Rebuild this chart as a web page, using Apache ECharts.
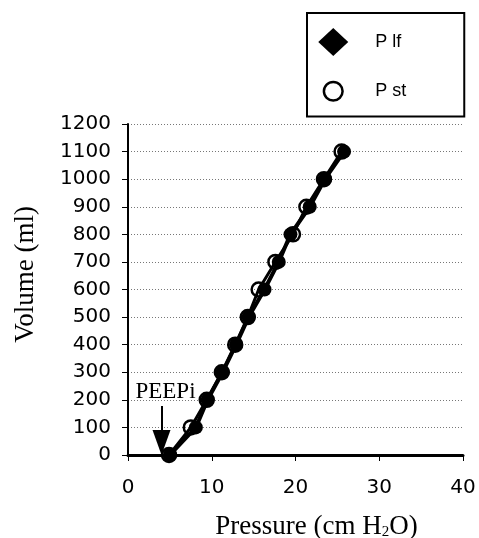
<!DOCTYPE html>
<html lang="en">
<head>
    <meta charset="utf-8">
    <script src="https://cdn.jsdelivr.net/npm/echarts@6/dist/echarts.min.js"></script>
    <style>
        * { margin: 0; padding: 0; }
        body { background: #fff; }
    </style>
</head>
<body>
<div id="main" style="width: 479px; height: 538px;"></div>
<script>
// volume steps (ml)
var volumes = [0, 100, 200, 300, 400, 500, 600, 700, 800, 900, 1000, 1100];
// pressures (cm H2O)
var plfPressure = [5.0, 8.1, 9.5, 11.3, 12.9, 14.4, 16.3, 18.0, 19.4, 21.7, 23.5, 25.8];
var pstPressure = [4.9, 7.5, 9.4, 11.2, 12.8, 14.3, 15.6, 17.6, 19.7, 21.3, 23.4, 25.5];
var peepi = 4;

function pairs(xs, ys) {
    return xs.map(function (x, i) { return [x, ys[i]]; });
}

// small open circle for the legend (the two corner moves keep the box 30x30)
var smallCircle = 'path://M0,0M30,30M25,15A10,10,0,1,1,5,15A10,10,0,1,1,25,15Z';

var myChart = echarts.init(document.getElementById('main'));

var option = {
    animation: false,
    grid: { left: 128, right: 16, top: 124, bottom: 83, outerBoundsMode: 'none', containLabel: false },
    legend: {
        orient: 'vertical',
        left: 307,
        top: 13,
        padding: [15, 58, 10, 11],
        itemWidth: 30,
        itemHeight: 28,
        itemGap: 20,
        borderColor: '#000',
        borderWidth: 2,
        selectedMode: false,
        textStyle: { fontFamily: 'Liberation Sans', fontSize: 18, color: '#000', padding: [0, 0, 0, 22] },
        data: [
            { name: 'P lf', icon: 'diamond', itemStyle: { color: '#000', borderWidth: 0 } },
            { name: 'P st', icon: smallCircle, itemStyle: { color: '#fff', borderColor: '#000', borderWidth: 2.5 } }
        ]
    },
    xAxis: {
        type: 'value',
        min: 0, max: 40, interval: 10,
        name: 'Pressure (cm H{sub|2}O)',
        nameLocation: 'middle',
        nameGap: 58,
        nameTextStyle: {
            fontFamily: 'Liberation Serif', fontSize: 27, color: '#000', padding: [0, 0, 0, 42],
            rich: { sub: { fontFamily: 'Liberation Serif', fontSize: 15, color: '#000', verticalAlign: 'bottom', padding: [10, 0, 0, 0] } }
        },
        axisLine: { lineStyle: { color: '#000', width: 3 } },
        axisTick: { length: 6, lineStyle: { color: '#000', width: 1 } },
        axisLabel: { margin: 23, fontFamily: 'DejaVu Sans', fontSize: 20, color: '#000' },
        splitLine: { show: false }
    },
    yAxis: {
        type: 'value',
        min: 0, max: 1200, interval: 100,
        name: 'Volume (ml)',
        nameLocation: 'middle',
        nameGap: 89,
        nameTextStyle: { fontFamily: 'Liberation Serif', fontSize: 27, color: '#000', padding: [0, 0, 0, 30] },
        axisLine: { show: true, lineStyle: { color: '#000', width: 2 } },
        axisTick: { show: true, length: 6, lineStyle: { color: '#000', width: 1 } },
        axisLabel: {
            margin: 17, fontFamily: 'DejaVu Sans', fontSize: 20, color: '#000',
            formatter: function (v) { return String(v); }
        },
        splitLine: { lineStyle: { color: '#777', type: [1, 2], width: 1 } }
    },
    series: [{
        name: 'P st',
        type: 'line',
        data: pairs(pstPressure, volumes),
        symbol: 'circle',
        symbolSize: 14,
        itemStyle: { color: 'rgba(255,255,255,0)', borderColor: '#000', borderWidth: 2.5 },
        lineStyle: { color: '#000', width: 3 },
        z: 2
    }, {
        name: 'P lf',
        type: 'line',
        data: pairs(plfPressure, volumes),
        symbol: 'circle',
        symbolSize: 14,
        itemStyle: { color: '#000' },
        lineStyle: { color: '#000', width: 4 },
        z: 3,
        markLine: {
            silent: true,
            symbol: ['none', 'triangle'],
            symbolSize: [18, 25],
            lineStyle: { color: '#000', width: 2, type: 'solid' },
            label: {
                show: true,
                position: 'start',
                distance: 2,
                formatter: 'PEEPi',
                fontFamily: 'Liberation Serif',
                fontSize: 23,
                color: '#000',
                padding: [0, 0, 0, 8]
            },
            data: [[{ coord: [peepi, 178] }, { coord: [peepi, 45] }]]
        }
    }]
};

myChart.setOption(option);
</script>
</body>
</html>
